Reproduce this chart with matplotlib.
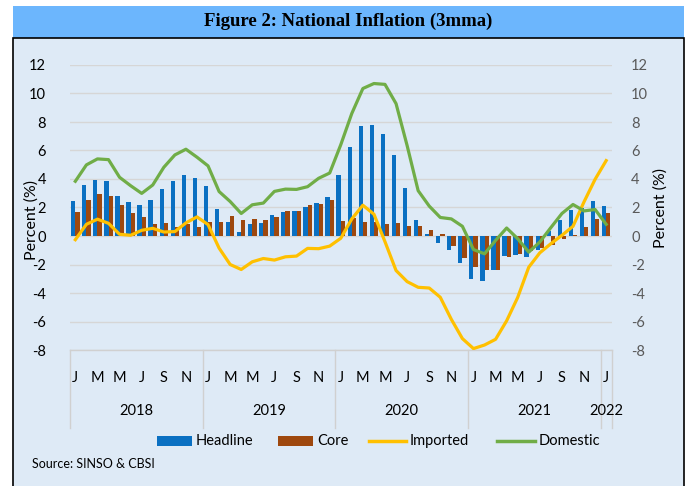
import matplotlib
matplotlib.use("Agg")
import matplotlib.pyplot as plt
from matplotlib.patches import Rectangle
from matplotlib.lines import Line2D
import numpy as np

plt.rcParams['font.family'] = ['Lato', 'DejaVu Sans']

# ---------------- data ----------------
years = ["2018", "2019", "2020", "2021", "2022"]
month_letters = ["J", "F", "M", "A", "M", "J", "J", "A", "S", "O", "N", "D"]
n_months = 49  # Jan 2018 .. Jan 2022

headline = [2.45, 3.58, 3.95, 3.86, 2.78, 2.40, 2.19, 2.54, 3.32, 3.84, 4.31, 4.09,
            3.53, 1.88, 1.01, 0.28, 0.82, 0.89, 1.44, 1.67, 1.72, 2.02, 2.33, 2.71,
            4.31, 6.24, 7.74, 7.81, 7.13, 5.69, 3.36, 1.13, 0.17, -0.52, -1.00, -1.90,
            -3.05, -3.18, -2.40, -1.41, -1.32, -1.48, -0.96, 0.33, 1.15, 1.81, 1.98, 2.49,
            2.09]
core = [1.67, 2.56, 2.94, 2.78, 2.16, 1.62, 1.34, 0.87, 0.92, 0.64, 0.85, 0.64,
        1.01, 0.99, 1.41, 1.11, 1.22, 1.11, 1.32, 1.72, 1.76, 2.19, 2.28, 2.56,
        1.06, 1.29, 0.99, 1.01, 0.82, 0.89, 0.71, 0.71, 0.42, 0.12, -0.71, -1.52,
        -2.19, -2.40, -2.42, -1.48, -1.25, -1.08, -0.82, -0.66, -0.24, 0.05, 0.64, 1.18,
        1.58]
imported = [-0.26, 0.82, 1.18, 0.89, 0.12, 0.05, 0.40, 0.54, 0.28, 0.31, 0.92, 1.34,
            0.80, -0.85, -2.00, -2.35, -1.81, -1.58, -1.69, -1.46, -1.41, -0.87, -0.89, -0.71,
            -0.16, 1.20, 2.16, 1.53, -0.40, -2.42, -3.20, -3.60, -3.65, -4.30, -5.85, -7.20,
            -7.90, -7.65, -7.25, -5.95, -4.31, -2.19, -1.18, -0.54, 0.05, 0.68, 2.40, 3.98,
            5.29]
domestic = [3.84, 4.99, 5.41, 5.36, 4.12, 3.53, 2.99, 3.58, 4.82, 5.69, 6.09, 5.53,
            4.92, 3.12, 2.42, 1.58, 2.19, 2.31, 3.13, 3.29, 3.27, 3.46, 4.05, 4.42,
            6.40, 8.60, 10.35, 10.70, 10.64, 9.29, 6.35, 3.18, 2.10, 1.30, 1.20, 0.68,
            -0.95, -1.25, -0.31, 0.56, -0.19, -1.13, -0.42, 0.59, 1.58, 2.21, 1.76, 1.86,
            0.82]
y_ticks = [-8, -6, -4, -2, 0, 2, 4, 6, 8, 10, 12]

# ---------------- styling ----------------
W, H = 686, 486
c_head = "#0a70c2"
c_core = "#9e480e"
c_imp = "#ffc000"
c_dom = "#70ad47"
c_panel = "#deeaf6"
c_band = "#6cb6fd"

fig = plt.figure(figsize=(W / 100, H / 100), dpi=100)
fig.patch.set_facecolor("white")

def fx(px):
    return px / W

def fy(py):
    return 1 - py / H

# title band and chart panel
fig.add_artist(Rectangle((fx(13), fy(38)), fx(684) - fx(13), fy(6) - fy(38),
                         transform=fig.transFigure, facecolor=c_band, edgecolor="none", zorder=0))
fig.add_artist(Rectangle((fx(13), fy(492)), fx(684) - fx(13), fy(38) - fy(492),
                         transform=fig.transFigure, facecolor=c_panel, edgecolor="black",
                         linewidth=1.2, zorder=0))
fig.text(fx(348), fy(21), "Figure 2: National Inflation (3mma)", ha="center", va="center",
         fontsize=13.5, fontweight="bold", family=["Liberation Serif", "DejaVu Serif"])

x0, x1, ytop, ybot = 69.8, 611.7, 65, 350
ax = fig.add_axes([fx(x0), fy(ybot), fx(x1) - fx(x0), fy(ytop) - fy(ybot)])
ax.set_facecolor("none")
ax.set_xlim(-0.5, n_months - 0.5)
ax.set_ylim(-8, 12)

x = np.arange(n_months)
bw = 0.385
ax.bar(x - bw / 2, headline, width=bw, color=c_head, zorder=3)
ax.bar(x + bw / 2, core, width=bw, color=c_core, zorder=3)
ax.plot(x, imported, color=c_imp, lw=2.3, zorder=4, solid_joinstyle="round")
ax.plot(x, domestic, color=c_dom, lw=2.3, zorder=4, solid_joinstyle="round")

for s in ax.spines.values():
    s.set_visible(False)
ax.set_yticks(y_ticks)
ax.set_yticklabels([str(v) for v in y_ticks])
ax.tick_params(axis="y", length=0, pad=17, labelsize=10.5, labelcolor="#000000")
ax.set_xticks([])
ax.grid(axis="y", color="#d6d6d6", lw=1.0, zorder=0)
ax.set_axisbelow(True)

pw = x1 - x0
hpx = ybot - ytop

def ay(py):
    return (ybot - py) / hpx

ax.set_ylabel("Percent (%)", fontsize=11.5)
ax.yaxis.set_label_coords((39 - x0) / pw, ay(220))

ax2 = ax.twinx()
ax2.set_ylim(-8, 12)
ax2.set_yticks(y_ticks)
ax2.set_yticklabels([str(v) for v in y_ticks])
ax2.tick_params(axis="y", length=0, pad=14, labelsize=10.5, labelcolor="#595959")
for s in ax2.spines.values():
    s.set_visible(False)
ax2.set_ylabel("Percent (%)", fontsize=11.5)
ax2.yaxis.set_label_coords((653 - x0) / pw, ay(208))

# multi-level category axis
trans = ax.get_xaxis_transform()
for i in range(0, n_months, 2):
    ax.text(i, ay(378), month_letters[i % 12], transform=trans, ha="center", va="center",
            fontsize=10.5, clip_on=False)
for k, yr in enumerate(years):
    start = 12 * k
    end = min(12 * k + 11, n_months - 1)
    ax.text((start + end) / 2, ay(411), yr, transform=trans, ha="center", va="center",
            fontsize=10.5, clip_on=False)
for b in [-0.5, 11.5, 23.5, 35.5, 47.5, 48.5]:
    ax.add_line(Line2D([b, b], [0, ay(428)], transform=trans, color="#d0d0d0", lw=1,
                       clip_on=False))
ax.add_line(Line2D([-0.5, 48.5], [0, 0], transform=trans, color="#d0d0d0", lw=1, clip_on=False))

# legend
ly = 441
fig.add_artist(Rectangle((fx(157), fy(ly + 5)), fx(192) - fx(157), fy(ly - 5) - fy(ly + 5),
                         transform=fig.transFigure, facecolor=c_head, edgecolor="none"))
fig.text(fx(196), fy(ly), "Headline", va="center", ha="left", fontsize=10.5)
fig.add_artist(Rectangle((fx(278), fy(ly + 5)), fx(313) - fx(278), fy(ly - 5) - fy(ly + 5),
                         transform=fig.transFigure, facecolor=c_core, edgecolor="none"))
fig.text(fx(317), fy(ly), "Core", va="center", ha="left", fontsize=10.5)
fig.add_artist(Line2D([fx(369), fx(406)], [fy(ly), fy(ly)], transform=fig.transFigure,
                      color=c_imp, lw=2.5))
fig.text(fx(410), fy(ly), "Imported", va="center", ha="left", fontsize=10.5)
fig.add_artist(Line2D([fx(497), fx(535)], [fy(ly), fy(ly)], transform=fig.transFigure,
                      color=c_dom, lw=2.5))
fig.text(fx(539), fy(ly), "Domestic", va="center", ha="left", fontsize=10.5)

fig.text(fx(32), fy(464), "Source: SINSO & CBSI", va="center", ha="left", fontsize=9)

fig.savefig("out.png", dpi=100)
